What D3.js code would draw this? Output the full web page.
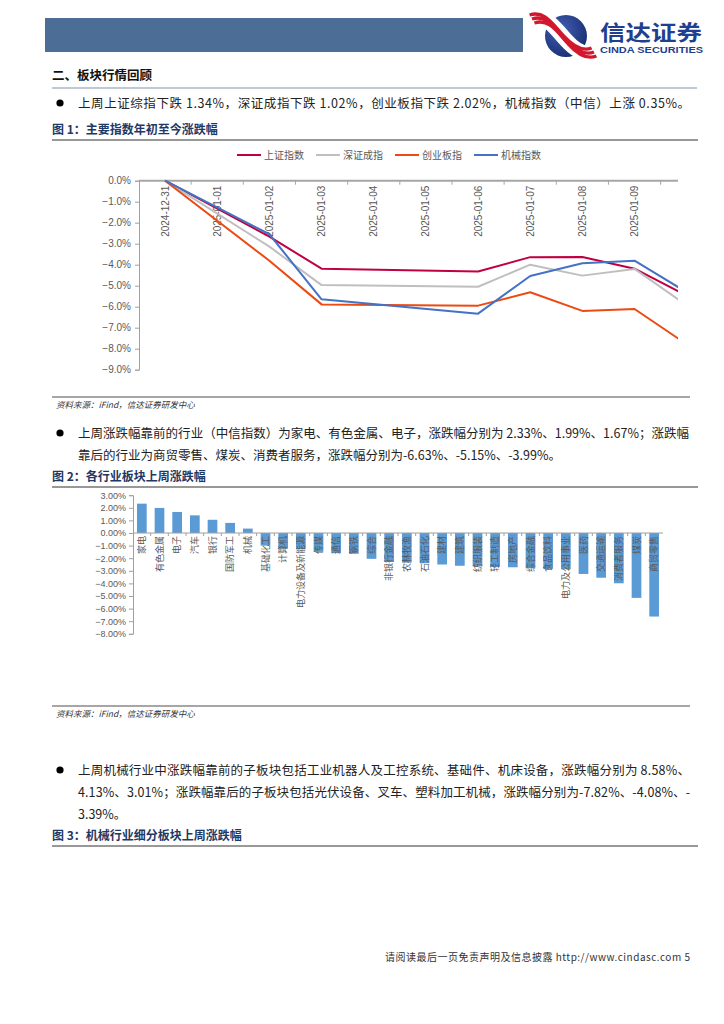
<!DOCTYPE html>
<html><head><meta charset="utf-8">
<script src="https://cdn.jsdelivr.net/npm/d3@7"></script>
<style>body{margin:0;background:#fff}svg{display:block}</style>
</head><body>
<svg id="page" width="724" height="1024"></svg>
<script>
// ---------- DATA ----------
const dates1 = ["2024-12-31","2025-01-02","2025-01-03","2025-01-06","2025-01-07","2025-01-08","2025-01-09","2025-01-10"];
const shComposite = [0,-2.66,-4.19,-4.32,-3.64,-3.63,-4.19,-5.47];
const szComponent = [0,-3.14,-4.97,-5.05,-4.00,-4.52,-4.20,-5.93];
const chinext     = [0,-3.81,-5.89,-5.95,-5.31,-6.20,-6.11,-7.79];
const machinery   = [0,-2.55,-5.65,-6.33,-4.54,-3.93,-3.81,-5.31];
const seriesNames1 = ["上证指数","深证成指","创业板指","机械指数"];
const axisDates1 = ["2024-12-31","2025-01-01","2025-01-02","2025-01-03","2025-01-04","2025-01-05","2025-01-06","2025-01-07","2025-01-08","2025-01-09"];
const yTicks1 = [0,-1,-2,-3,-4,-5,-6,-7,-8,-9];

const industries = ["家电","有色金属","电子","汽车","银行","国防军工","机械","基础化工","计算机","电力设备及新能源",
  "传媒","通信","钢铁","综合","非银行金融","农林牧渔","石油石化","建材","建筑","纺织服装",
  "轻工制造","房地产","综合金融","食品饮料","电力及公用事业","医药","交通运输","消费者服务","煤炭","商贸零售"];
const industryChg = [2.33,1.99,1.67,1.40,1.05,0.80,0.35,-1.00,-1.25,-1.30,
  -1.50,-1.60,-1.65,-2.05,-2.30,-2.35,-2.40,-2.50,-2.60,-2.65,
  -2.70,-2.72,-2.80,-2.85,-2.88,-3.25,-3.55,-3.99,-5.15,-6.63];
const yTicks2 = [3,2,1,0,-1,-2,-3,-4,-5,-6,-7,-8];

// ---------- PAGE ----------
const svg = d3.select("#page");
const CJK = "'Noto Sans CJK SC','Noto Sans',sans-serif";
const SANS = "'Liberation Sans',Arial,sans-serif";
const defs = svg.append("defs");

// header bar
svg.append("rect").attr("x",45).attr("y",18).attr("width",478).attr("height",34).attr("fill","#4C6E96");
// logo
const rg = defs.append("radialGradient").attr("id","lg").attr("cx","38%").attr("cy","35%").attr("r","75%");
rg.append("stop").attr("offset","0%").attr("stop-color","#4460B5");
rg.append("stop").attr("offset","100%").attr("stop-color","#142A6E");
svg.append("circle").attr("cx",566).attr("cy",36).attr("r",21).attr("fill","url(#lg)");
const swoosh = "M532,19 C548,14 556,30 566,40 C575,50 584,56 594,52";
svg.append("path").attr("d",swoosh).attr("fill","none").attr("stroke","#fff").attr("stroke-width",15);
[-4,0,4].forEach(o=>{
  svg.append("path").attr("d",swoosh).attr("transform",`translate(${o*0.6},${o})`)
    .attr("fill","none").attr("stroke","#D2182E").attr("stroke-width",3.4);
});
svg.append("text").attr("x",600).attr("y",40).attr("font-family",CJK).attr("font-weight","bold")
  .attr("font-size",21).attr("fill","#1F3F8F").attr("textLength",102).attr("lengthAdjust","spacingAndGlyphs").text("信达证券");
svg.append("text").attr("x",600).attr("y",53).attr("font-family",SANS).attr("font-weight","bold")
  .attr("font-size",9).attr("fill","#1F3F8F").attr("textLength",103).attr("lengthAdjust","spacingAndGlyphs").text("CINDA SECURITIES");

// section heading
svg.append("text").attr("x",52).attr("y",80).attr("font-family",CJK).attr("font-weight","bold")
  .attr("font-size",12.5).attr("fill","#111").text("二、板块行情回顾");
svg.append("line").attr("x1",52).attr("x2",697).attr("y1",88).attr("y2",88).attr("stroke","#8093AD").attr("stroke-width",1.2);

function bullet(y){ svg.append("circle").attr("cx",60).attr("cy",y).attr("r",3.6).attr("fill","#000"); }
function body(x,y,t,len){
  const e = svg.append("text").attr("x",x).attr("y",y).attr("font-family",CJK).attr("font-size",12.5).attr("fill","#222").text(t);
  if(len) e.attr("textLength",len).attr("lengthAdjust","spacing");
}
function figTitle(y,t){
  svg.append("text").attr("x",52).attr("y",y).attr("font-family",CJK).attr("font-weight","bold")
    .attr("font-size",12).attr("fill","#1F3864").text(t);
  svg.append("line").attr("x1",52).attr("x2",698).attr("y1",y+6).attr("y2",y+6).attr("stroke","#333").attr("stroke-width",1.2);
}
function source(y){
  svg.append("line").attr("x1",52).attr("x2",690).attr("y1",y).attr("y2",y).attr("stroke","#888").attr("stroke-width",1.3);
  svg.append("text").attr("x",56).attr("y",y+11).attr("font-family",CJK).attr("font-size",8.5).attr("font-style","italic")
    .attr("fill","#333").text("资料来源：iFind，信达证券研发中心");
}

bullet(103);
body(78,107.5,"上周上证综指下跌 1.34%，深证成指下跌 1.02%，创业板指下跌 2.02%，机械指数（中信）上涨 0.35%。",612);
figTitle(134,"图 1：主要指数年初至今涨跌幅");

// ---------- CHART 1 ----------
const parse = d3.utcParse("%Y-%m-%d");
const x1 = d3.scaleUtc().domain([new Date(Date.UTC(2024,11,30,12)), new Date(Date.UTC(2025,0,9,20))]).range([139,678]);
const y1 = d3.scaleLinear().domain([0,-9]).range([180.7,369.7]);
const c1 = svg.append("g");
defs.append("clipPath").attr("id","clip1").append("rect").attr("x",139).attr("y",150).attr("width",539).attr("height",230);

const ya1 = c1.append("g").attr("transform","translate(139,0)")
  .call(d3.axisLeft(y1).tickValues(yTicks1).tickSize(4).tickPadding(4).tickFormat(d=>d3.format(".1f")(d)+"%"));
ya1.select(".domain").attr("stroke","#A0A0A0");
ya1.selectAll(".tick line").attr("stroke","#A0A0A0");
ya1.selectAll("text").attr("font-family",SANS).attr("font-size",10).attr("fill","#595959");

c1.append("line").attr("x1",139).attr("x2",678).attr("y1",y1(0)).attr("y2",y1(0)).attr("stroke","#A6A6A6").attr("stroke-width",2);
axisDates1.forEach(d=>{
  const t = new Date(parse(d).getTime()+12*3600e3);
  c1.append("line").attr("x1",x1(t)).attr("x2",x1(t)).attr("y1",y1(0)).attr("y2",y1(0)+4).attr("stroke","#A6A6A6");
  const xc = x1(parse(d));
  c1.append("text").attr("transform",`translate(${xc+3.5},${y1(0)+5}) rotate(-90)`).attr("text-anchor","end")
    .attr("font-family",SANS).attr("font-size",10).attr("fill","#595959").text(d);
});

const colors1 = ["#C00040","#BFBFBF","#EB4A12","#4472C4"];
const series1 = [shComposite, szComponent, chinext, machinery];
const line1 = d3.line().x((d,i)=>x1(parse(dates1[i]))).y(d=>y1(d));
const lg = c1.append("g").attr("clip-path","url(#clip1)");
series1.forEach((s,k)=>{
  lg.append("path").datum(s).attr("d",line1).attr("fill","none").attr("stroke",colors1[k]).attr("stroke-width",2).attr("stroke-linejoin","round");
});
seriesNames1.forEach((n,k)=>{
  const lx = 237 + k*79;
  c1.append("line").attr("x1",lx).attr("x2",lx+24).attr("y1",155).attr("y2",155).attr("stroke",colors1[k]).attr("stroke-width",2);
  c1.append("text").attr("x",lx+27).attr("y",158.5).attr("font-family",CJK).attr("font-size",10).attr("fill","#595959").text(n);
});

source(397);

bullet(433);
body(78,437.5,"上周涨跌幅靠前的行业（中信指数）为家电、有色金属、电子，涨跌幅分别为 2.33%、1.99%、1.67%；涨跌幅",611);
body(78,459.5,"靠后的行业为商贸零售、煤炭、消费者服务，涨跌幅分别为-6.63%、-5.15%、-3.99%。");
figTitle(481,"图 2：各行业板块上周涨跌幅");

// ---------- CHART 2 ----------
const x2 = d3.scaleBand().domain(industries).range([133,663]).paddingInner(0.45).paddingOuter(0.225);
const y2 = d3.scaleLinear().domain([3,-8]).range([495.2,633.8]);
const c2 = svg.append("g");
const ya2 = c2.append("g").attr("transform","translate(133,0)")
  .call(d3.axisLeft(y2).tickValues(yTicks2).tickSize(4).tickPadding(3).tickFormat(d=>d3.format(".2f")(d)+"%"));
ya2.select(".domain").attr("stroke","#A0A0A0");
ya2.selectAll(".tick line").attr("stroke","#A0A0A0");
ya2.selectAll("text").attr("font-family",SANS).attr("font-size",9).attr("fill","#595959");

c2.selectAll("rect.bar").data(industries).join("rect").attr("class","bar")
  .attr("x",d=>x2(d)).attr("width",x2.bandwidth())
  .attr("y",(d,i)=>Math.min(y2(industryChg[i]),y2(0)))
  .attr("height",(d,i)=>Math.abs(y2(industryChg[i])-y2(0)))
  .attr("fill","#5B9BD5");
c2.append("line").attr("x1",133).attr("x2",663).attr("y1",y2(0)).attr("y2",y2(0)).attr("stroke","#A0A0A0").attr("stroke-width",1.2);
industries.forEach((d,i)=>{
  const bx = x2(d) - x2.step()*x2.paddingInner()/2;
  if(i>0) c2.append("line").attr("x1",bx).attr("x2",bx).attr("y1",y2(0)).attr("y2",y2(0)+3).attr("stroke","#A0A0A0");
  c2.append("text").attr("transform",`translate(${x2(d)+x2.bandwidth()/2+3.2},${y2(0)+3}) rotate(-90)`)
    .attr("text-anchor","end").attr("font-family",CJK).attr("font-size",9).attr("fill","#595959").text(d);
});

source(706);

bullet(770);
body(78,774.5,"上周机械行业中涨跌幅靠前的子板块包括工业机器人及工控系统、基础件、机床设备，涨跌幅分别为 8.58%、",612);
body(78,796.5,"4.13%、3.01%；涨跌幅靠后的子板块包括光伏设备、叉车、塑料加工机械，涨跌幅分别为-7.82%、-4.08%、-",612);
body(78,818.5,"3.39%。");
figTitle(840,"图 3：机械行业细分板块上周涨跌幅");

// footer
svg.append("text").attr("x",690).attr("y",961).attr("text-anchor","end").attr("font-family",CJK)
  .attr("font-size",10).attr("fill","#333").attr("textLength",305).attr("lengthAdjust","spacing")
  .text("请阅读最后一页免责声明及信息披露 http://www.cindasc.com  5");
</script>
</body></html>
